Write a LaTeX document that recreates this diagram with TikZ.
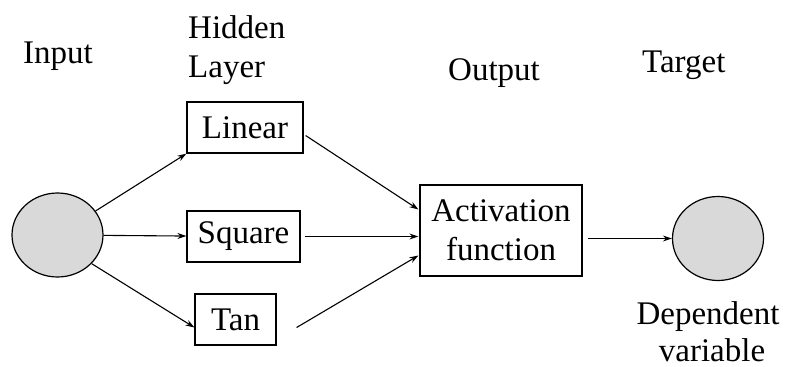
\documentclass[tikz,border=0pt]{standalone}
\usepackage{fontspec}
\setmainfont{Liberation Serif}
\usetikzlibrary{arrows.meta,calc,shapes.geometric}
\definecolor{circfill}{HTML}{D9D9D9}
\begin{document}
\begin{tikzpicture}[x=1pt,y=-1pt,
  every node/.style={font=\fontsize{33}{39}\selectfont, inner sep=0pt},
  box/.style={draw, line width=1.2pt, minimum width=#1, align=center},
  unit/.style={draw, line width=1.2pt, ellipse, fill=circfill, minimum width=91pt, minimum height=84pt},
  conn/.style={line width=1.1pt, -{Stealth[length=9pt,width=6pt]}},
  lbl/.style={anchor=base west}]
\useasboundingbox (0,0) rectangle (788,367);
% units
\node[unit] (in) at (57.5,235) {};
\node[unit] (tgt) at (718,238.5) {};
% hidden boxes
\node[box=116pt, minimum height=51pt] (lin) at (245,127.5) {Linear};
\node[box=113pt, minimum height=51pt] (sq) at (243.5,236.5) {Square};
\node[box=81pt, minimum height=51pt] (tan) at (235.5,319.5) {Tan};
\node[box=162pt, minimum height=91pt] (act) at (501,230.5) {Activation\\function};
% labels
\node[lbl] (lin1) at (23,63) {Input};
\node[lbl] (lhid) at (188,38) {Hidden};
\node[lbl] (llay) at (188,77) {Layer};
\node[lbl] (lout) at (448,80) {Output};
\node[lbl] (ltgt) at (642,72) {Target};
\node[anchor=base] (ldep) at (708,324) {Dependent};
\node[anchor=base] (lvar) at (712,361) {variable};
% connectors
\draw[conn] (in) -- (lin.south west);
\draw[conn] (in) -- (sq);
\draw[conn] (in.-40) -- ($(tan.west)+(0,8)$);
\draw[conn] ($(lin.east)+(2,8)$) -- ($(act.west)+(-1,-21)$);
\draw[conn] (sq.east) ++(4,0) -- ($(act.west |- sq.east)+(-1,0)$);
\draw[conn] ($(tan.east)+(20,8)$) -- ($(act.west)+(-1,25)$);
\draw[conn] ($(act.east |- tgt.west)+(5,0)$) -- (tgt.west);
\end{tikzpicture}
\end{document}
